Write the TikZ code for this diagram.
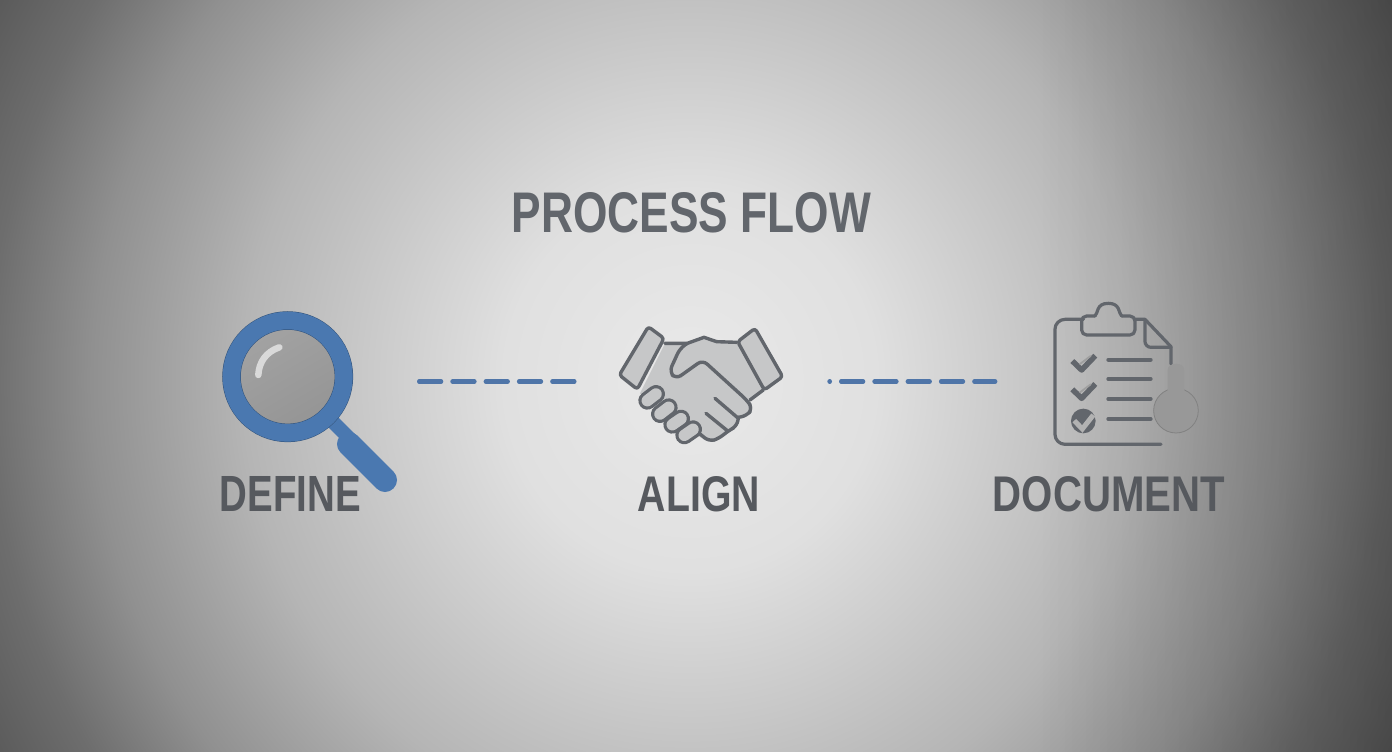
\documentclass[tikz,border=0pt]{standalone}
\usepackage{fontspec}
\usepackage{graphicx}
\setmainfont{Liberation Sans}
\usetikzlibrary{fadings}
\definecolor{inkgray}{HTML}{62666C}
\definecolor{labelgray}{HTML}{56595E}
\definecolor{glassblue}{HTML}{4A78B0}
\definecolor{dashblue}{HTML}{4F75A8}
\definecolor{handfill}{HTML}{C6C7C8}
\definecolor{knobgray}{HTML}{989898}
\pgfdeclareradialshading{bgshade}{\pgfpoint{0bp}{0bp}}{
 rgb(0bp)=(.914,.914,.914);
 rgb(5.3bp)=(.878,.878,.878);
 rgb(12.7bp)=(.71,.71,.71);
 rgb(17bp)=(.565,.565,.565);
 rgb(19.9bp)=(.43,.43,.43);
 rgb(23.6bp)=(.314,.314,.314);
 rgb(26.5bp)=(.27,.27,.27);
 rgb(50bp)=(.27,.27,.27)}
\pgfdeclareverticalshading{lensshade}{100bp}{rgb(0bp)=(.56,.56,.56); rgb(100bp)=(.66,.66,.66)}
\tikzset{
 titletext/.style={text=inkgray,inner sep=0pt,font=\bfseries},
 steptext/.style={text=labelgray,inner sep=0pt,font=\bfseries},
 linkdash/.style={dashblue,line width=4.4pt,line cap=round},
 handline/.style={inkgray,line width=3.4pt,line join=round,line cap=round},
 clipline/.style={inkgray,line width=3.2pt,line join=round,line cap=round},
 listline/.style={inkgray,line width=4pt,line cap=round},
 checkmark/.style={inkgray,line width=5.5pt,line join=round},
 checklight/.style={gray!75,line width=1.8pt,line cap=round},
}
\begin{document}
\begin{tikzpicture}[x=1pt,y=-1pt]
\useasboundingbox (0,0) rectangle (1392,752);
\begin{scope}
\clip (0,0) rectangle (1392,752);
\shade[shading=bgshade] (-190,-520) rectangle (1570,1280);
\fill[black,opacity=.2,path fading=west] (1040,-10) rectangle (1402,762);
\end{scope}

% title
\node[titletext] (title) at (691.5,213) {\resizebox{359pt}{40pt}{PROCESS FLOW}};

% magnifier
\coordinate (lens) at (287.7,376.7);
\coordinate (neckA) at (329,418);
\coordinate (neckB) at (352,441);
\coordinate (gripA) at (349,444);
\coordinate (gripB) at (385,480);
\shade[shading=lensshade,shading angle=30] (lens) circle (48);
\draw[glassblue,line width=14pt] (neckA) -- (neckB);
\draw[glassblue,line width=24pt,line cap=round] (gripA) -- (gripB);
\draw[glassblue!70!black,line width=18.5pt] (lens) circle (56.2);
\draw[glassblue,line width=17.5pt] (lens) circle (56.2);
\draw[gray!30,line width=6.5pt,line cap=round] (258.3,375) .. controls (259,362) and (266,352) .. (279.3,347.3);

% handshake
\begin{scope}[shift={(600,310)},x=0.3333pt,y=-0.3333pt]
\fill[handfill] (195,100) -- (262,100) -- (312,82) -- (350,95) -- (415,97) -- (490,240) -- (450,270) -- (458,295) -- (415,322) -- (410,350) -- (385,365) -- (355,385) -- (325,395) -- (270,365) -- (120,250) -- cycle;
\draw[handline] (195,100) -- (262,100) -- (312,82) -- (350,95) -- (410,97);
\draw[handline,rounded corners=6pt] (262,100) -- (240,115) -- (208,185) -- (228,207) -- (255,188) -- (308,150) -- (440,270) -- (458,295) -- (440,318) -- (415,322);
\draw[handline] (345,265) -- (415,325);
\draw[handline] (318,310) -- (382,362);
\draw[handline,rounded corners=6pt] (415,322) -- (412,348) -- (385,362) -- (358,385) -- (328,395) -- (300,372);
\draw[handline] (450,270) -- (490,240);
\foreach \a/\b/\c/\d in {142/272/168/252,180/312/206/292,217/344/243/326,253/376/279/358}{
 \draw[inkgray,line width=18pt,line cap=round] (\a,\b) -- (\c,\d);
 \draw[handfill,line width=11.5pt,line cap=round] (\a,\b) -- (\c,\d);
}
\draw[handline,fill=handfill,rounded corners=3pt] (145,50) -- (192,85) -- (112,238) -- (58,195) -- cycle;
\draw[handline,fill=handfill,rounded corners=3pt] (465,55) -- (413,95) -- (493,240) -- (548,200) -- cycle;
\end{scope}

% clipboard
\begin{scope}[shift={(820,290)},x=0.3333pt,y=-0.3333pt]
\draw[clipline,rounded corners=10pt] (1023,463) -- (705,463) -- (705,88) -- (790,88);
\draw[clipline] (945,88) -- (975,88) -- (1053,170) -- (1053,222);
\draw[clipline,rounded corners=6pt] (975,90) -- (975,172) -- (1053,172);
\draw[clipline,rounded corners=5pt] (825,78) -- (785,78) -- (785,135) -- (945,135) -- (945,78) -- (905,78);
\draw[clipline] (825,78) .. controls (835,70) and (828,40) .. (865,40) .. controls (902,40) and (895,70) .. (905,78);
\foreach \y in {209,267,327,387}{\draw[listline] (865,\y) -- (992,\y);}
\foreach \y in {0,85}{
 \draw[checkmark] (757,213+\y) -- (785,240+\y) -- (826,197+\y);
 \draw[checklight] (780,222+\y) -- (812,198+\y);
}
\fill[inkgray] (790,393) circle (37);
\draw[gray!60,line width=5pt] (763,392) -- (787,417) -- (820,375);
\draw[knobgray!85!black,line width=.8pt,fill=knobgray] (1068,362) circle (67);
\fill[knobgray] (1043,240) .. controls (1043,215) and (1093,215) .. (1093,240) -- (1093,305) -- (1043,305) -- cycle;
\end{scope}

% labels
\node[steptext] (define) at (290.5,494) {\resizebox{141pt}{35pt}{DEFINE}};
\node[steptext] (align) at (699,494) {\resizebox{122pt}{35pt}{ALIGN}};
\node[steptext] (document) at (1109,494) {\resizebox{232pt}{35pt}{DOCUMENT}};

% connectors
\coordinate (d1a) at (419.2,381.5);
\coordinate (d1b) at (575.5,381.5);
\coordinate (d2a) at (829.5,381.5);
\coordinate (d2b) at (995.2,381.5);
\draw[linkdash,dash pattern=on 21.9pt off 11.4pt] (d1a) -- (d1b);
\draw[linkdash,dash pattern=on 21.9pt off 11.4pt,dash phase=21.6pt] (d2a) -- (d2b);
\end{tikzpicture}
\end{document}
